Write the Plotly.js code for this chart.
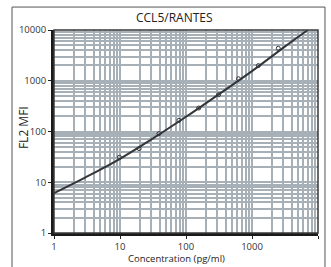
<!DOCTYPE html>
<html>
<head>
<meta charset="utf-8">
<script src="https://cdn.plot.ly/plotly-3.0.1.min.js"></script>
<style>html,body{margin:0;padding:0;background:#fff;}#chart{width:331px;height:267px;}</style>
</head>
<body>
<div id="chart"></div>
<script>
// Standard points (concentration pg/ml, FL2 MFI)
var stdConc = [9.8, 19.5, 39, 78, 156, 312, 625, 1250, 2500];
var stdMFI  = [31, 46, 91, 166, 290, 531, 1094, 1990, 4360];
// Fitted curve
var fitConc = [1, 3, 10, 30, 100, 300, 1000, 3000, 7000];
var fitMFI  = [6.1, 12.5, 29, 70, 195, 520, 1550, 4500, 10000];
var decadeTicks = [1, 10, 100, 1000, 10000];
var decadeLabels = ['1', '10', '100', '1000', '10000'];

var fontFam = 'Open Sans, Liberation Sans, sans-serif';
var gridCol = '#a7afb7';

var traces = [
  {x: fitConc, y: fitMFI, mode: 'lines', line: {color: '#333538', width: 2, shape: 'spline', smoothing: 1}, hoverinfo: 'none'},
  {x: stdConc, y: stdMFI, mode: 'markers', marker: {symbol: 'circle-open', size: 4, color: '#333538', line: {width: 1}}, hoverinfo: 'none'}
];

var axisCommon = {
  type: 'log',
  tickvals: decadeTicks,
  ticktext: decadeLabels,
  ticks: 'outside', ticklen: 3, tickwidth: 1, tickcolor: '#222',
  showgrid: true, gridcolor: gridCol, gridwidth: 2,
  minor: {dtick: 'D1', showgrid: true, gridcolor: gridCol, gridwidth: 2, ticks: ''},
  showline: true, linecolor: '#1a1a1a', linewidth: 3,
  zeroline: false,
  tickfont: {family: fontFam, size: 9.5, color: '#333'}
};

var layout = {
  width: 331, height: 267,
  margin: {l: 54, r: 13, t: 30, b: 34},
  paper_bgcolor: '#fff', plot_bgcolor: '#fff',
  showlegend: false,
  xaxis: Object.assign({}, axisCommon, {range: [0, 4]}),
  yaxis: Object.assign({}, axisCommon, {range: [0, 4]}),
  shapes: [
    {type: 'rect', xref: 'paper', yref: 'paper', x0: 0, x1: 1, y0: 0, y1: 1, line: {color: '#3a3a3a', width: 1.5}, layer: 'above'},
    {type: 'rect', xref: 'paper', yref: 'paper', x0: -0.159, x1: 1.0265, y0: -0.3, y1: 1.113, line: {color: '#555', width: 1}, layer: 'below'}
  ],
  annotations: [
    {text: 'CCL5/RANTES', xref: 'paper', yref: 'paper', x: 0.455, y: 1.06, xanchor: 'center', yanchor: 'middle', showarrow: false, font: {family: fontFam, size: 12, color: '#222'}},
    {text: 'Concentration (pg/ml)', xref: 'paper', yref: 'paper', x: 0.465, y: -0.1626, xanchor: 'center', yanchor: 'bottom', showarrow: false, borderpad: 0, font: {family: fontFam, size: 9.5, color: '#222'}},
    {text: 'FL2 MFI', xref: 'paper', yref: 'paper', x: -0.115, y: 0.52, xanchor: 'center', yanchor: 'middle', textangle: -90, showarrow: false, font: {family: fontFam, size: 12, color: '#222'}}
  ]
};

Plotly.newPlot('chart', traces, layout, {staticPlot: true, displayModeBar: false});
</script>
</body>
</html>
